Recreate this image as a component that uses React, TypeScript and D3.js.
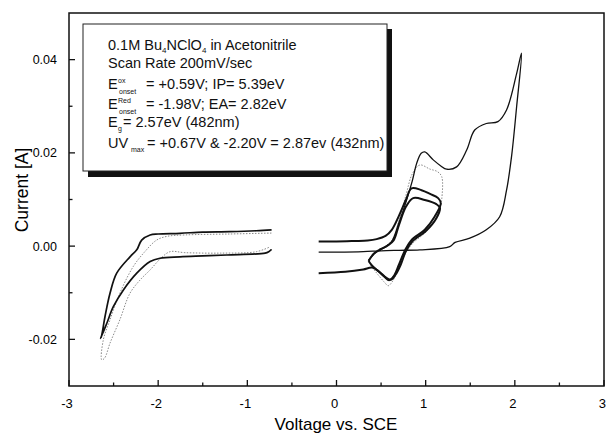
import React from 'react';
import * as d3 from 'd3';

// cyclic voltammetry traces, [voltage vs SCE, current in A]
const wideScan: [number, number][] = [
  [0.36, -0.0030], [0.45, -0.0012], [0.55, -0.0002], [0.62, 0.0010], [0.70, 0.0050],
  [0.78, 0.0095], [0.85, 0.0140], [0.90, 0.0178], [0.95, 0.0199], [0.99, 0.0202],
  [1.085, 0.0185], [1.17, 0.0172], [1.235, 0.0165], [1.347, 0.0170], [1.46, 0.0206],
  [1.55, 0.0249], [1.68, 0.0263], [1.81, 0.0267], [1.907, 0.0292], [2.02, 0.0370],
  [2.075, 0.0414],
  [2.02, 0.0299], [1.963, 0.0192], [1.907, 0.0120], [1.83, 0.0063], [1.68, 0.0035],
  [1.495, 0.0017], [1.33, 0.0008], [1.27, -0.0001], [0.935, -0.0008], [0.70, -0.0009],
  [0.50, -0.0010], [0.30, -0.0012], [0.0, -0.0013], [-0.2, -0.0013],
];

const firstCycle: [number, number][] = [
  [-0.2, 0.0010], [0.0, 0.0010], [0.2, 0.0011], [0.35, 0.0012], [0.45, 0.0015],
  [0.55, 0.0022], [0.62, 0.0035], [0.70, 0.0065], [0.78, 0.0100], [0.841, 0.0124],
  [0.954, 0.0120], [1.05, 0.0112], [1.14, 0.0103], [1.17, 0.0092],
  [1.10, 0.0063], [0.99, 0.0035], [0.84, 0.0013], [0.77, -0.0008], [0.70, -0.0040],
  [0.64, -0.0065], [0.59, -0.0073], [0.54, -0.0066], [0.47, -0.0054], [0.40, -0.0042],
  [0.36, -0.0032],
];

const secondCycle: [number, number][] = [
  [0.36, -0.0032], [0.42, -0.0016], [0.50, -0.0006], [0.58, 0.0002], [0.64, 0.0012],
  [0.70, 0.0045], [0.78, 0.0085], [0.86, 0.0103], [0.99, 0.0099], [1.12, 0.0090],
  [1.16, 0.0082],
  [1.12, 0.0060], [1.00, 0.0032], [0.85, 0.0010], [0.78, -0.0010], [0.72, -0.0040],
  [0.66, -0.0062], [0.61, -0.0072], [0.56, -0.0068], [0.48, -0.0055], [0.40, -0.0046],
  [0.30, -0.0050], [0.10, -0.0055], [-0.2, -0.0058],
];

const dottedCycle: [number, number][] = [
  [0.36, -0.0030], [0.45, -0.0010], [0.55, 0.0000], [0.63, 0.0015], [0.70, 0.0055],
  [0.78, 0.0110], [0.85, 0.0155], [0.935, 0.0174], [1.05, 0.0165], [1.13, 0.0160],
  [1.18, 0.0149],
  [1.18, 0.0100], [1.16, 0.0080], [1.10, 0.0055], [1.00, 0.0030], [0.85, 0.0005],
  [0.76, -0.0020], [0.69, -0.0050], [0.63, -0.0075], [0.58, -0.0085], [0.54, -0.0078],
  [0.46, -0.0060], [0.38, -0.0040], [0.36, -0.0032],
];

const reductionScan: [number, number][] = [
  [-0.728, 0.0035], [-0.9, 0.0033], [-1.2, 0.0031], [-1.5, 0.0030], [-1.756, 0.00275],
  [-2.0, 0.0026], [-2.09, 0.0024], [-2.185, 0.0013], [-2.24, -0.0008], [-2.316, -0.0023],
  [-2.465, -0.0058], [-2.54, -0.0101], [-2.596, -0.0151], [-2.633, -0.0191], [-2.645, -0.0198],
  [-2.577, -0.0166], [-2.503, -0.0130], [-2.39, -0.0094], [-2.24, -0.0058], [-2.09, -0.0033],
  [-1.98, -0.0026], [-1.756, -0.0023], [-1.5, -0.0021], [-1.23, -0.0019], [-0.80, -0.0015],
  [-0.76, -0.0012], [-0.728, -0.0007],
];

const reductionDotted: [number, number][] = [
  [-0.73, 0.0028], [-1.2, 0.0026], [-1.7, 0.0024], [-1.9, 0.0021], [-2.017, 0.0013],
  [-2.15, -0.0012], [-2.28, -0.0044], [-2.43, -0.0101], [-2.54, -0.0158], [-2.615, -0.0201],
  [-2.633, -0.0244],
  [-2.60, -0.0240], [-2.54, -0.0208], [-2.43, -0.0158], [-2.316, -0.0101], [-2.2, -0.0072],
  [-2.09, -0.0051], [-1.98, -0.0028], [-1.868, -0.0012], [-1.7, -0.0014], [-1.3, -0.0015],
  [-0.9, -0.0012], [-0.75, -0.0002],
];

const xTicks = [-3, -2, -1, 0, 1, 2, 3];
const yTicks = [-0.02, 0.0, 0.02, 0.04];

const FONT = '"Liberation Sans", Arial, sans-serif';

export default function App() {
  const x = d3.scaleLinear().domain([-3, 3]).range([69, 604]);
  const y = d3.scaleLinear().domain([-0.03, 0.05]).range([386, 13]);
  const line = d3.line<[number, number]>()
    .x(d => x(d[0]))
    .y(d => y(d[1]))
    .curve(d3.curveCatmullRom.alpha(0.5));

  const xMinor = x.ticks(12).filter(t => !xTicks.includes(t));
  const yMinor = y.ticks(8).filter(t => Math.abs(t * 100 - Math.round(t * 50) * 2) > 0.5 && t > -0.03 && t < 0.05);

  const [x0, x1] = x.range();
  const [yb, yt] = y.range();

  return (
    <svg width={606} height={434} style={{ position: 'absolute', left: 0, top: 0, background: '#fff' }}
      fontFamily={FONT}>
      {/* traces */}
      <path d={line(reductionDotted) || ''} fill="none" stroke="#8a8a8a" strokeWidth={1} strokeDasharray="1.5 1.5" />
      <path d={line(reductionScan) || ''} fill="none" stroke="#111" strokeWidth={1.7} />
      <path d={line(dottedCycle) || ''} fill="none" stroke="#8a8a8a" strokeWidth={1} strokeDasharray="1.5 1.5" />
      <path d={line(wideScan) || ''} fill="none" stroke="#111" strokeWidth={1.3} />
      <path d={line(firstCycle) || ''} fill="none" stroke="#111" strokeWidth={2} />
      <path d={line(secondCycle) || ''} fill="none" stroke="#111" strokeWidth={2} />

      {/* frame */}
      <rect x={x0} y={yt} width={x1 - x0} height={yb - yt} fill="none" stroke="#111" strokeWidth={1.5} />
      {xTicks.map((t, i) => (
        <g key={'xt' + t}>
          <line x1={x(t)} x2={x(t)} y1={yb} y2={yb - 6} stroke="#111" strokeWidth={1.3} />
          <text x={i === xTicks.length - 1 ? 606 : x(t) - 2} y={yb + 22} fontSize={13}
            textAnchor={i === xTicks.length - 1 ? 'end' : 'middle'}>{String(t)}</text>
        </g>
      ))}
      {xMinor.map(t => (
        <line key={'xm' + t} x1={x(t)} x2={x(t)} y1={yb} y2={yb - 3.5} stroke="#111" strokeWidth={1.3} />
      ))}
      {yTicks.map(t => (
        <g key={'yt' + t}>
          <line x1={x0} x2={x0 + 6} y1={y(t)} y2={y(t)} stroke="#111" strokeWidth={1.3} />
          <text x={x0 - 12} y={y(t) + 4.5} fontSize={12.5} textAnchor="end">{t.toFixed(2)}</text>
        </g>
      ))}
      {yMinor.map(t => (
        <line key={'ym' + t} x1={x0} x2={x0 + 3.5} y1={y(t)} y2={y(t)} stroke="#111" strokeWidth={1.3} />
      ))}

      <text x={336} y={429.5} fontSize={17} textAnchor="middle">Voltage vs. SCE</text>
      <text transform="translate(28,190) rotate(-90)" fontSize={17.5} textAnchor="middle">Current [A]</text>

      {/* annotation box with shadow */}
      <rect x={88} y={29} width={304} height={148} fill="#111" />
      <rect x={83} y={24} width={304} height={147} fill="#fff" stroke="#222" strokeWidth={1} />
      <g fontSize={14.5} fill="#111">
        <text x={108} y={50}>
          0.1M Bu<tspan fontSize={8} dy={3}>4</tspan><tspan dy={-3}>NClO</tspan>
          <tspan fontSize={8} dy={3}>4</tspan><tspan dy={-3}> in Acetonitrile</tspan>
        </text>
        <text x={108} y={68}>Scan Rate 200mV/sec</text>

        <text x={108} y={89}>E</text>
        <text x={118} y={83} fontSize={7}>ox</text>
        <text x={119} y={94} fontSize={7}>onset</text>
        <text x={146} y={89}>= +0.59V; IP= 5.39eV</text>

        <text x={108} y={109}>E</text>
        <text x={118} y={103} fontSize={7}>Red</text>
        <text x={119} y={114} fontSize={7}>onset</text>
        <text x={146} y={109}>= -1.98V; EA= 2.82eV</text>

        <text x={108} y={127}>E</text>
        <text x={118} y={131} fontSize={7}>g</text>
        <text x={123} y={127}>= 2.57eV (482nm)</text>

        <text x={108} y={148}>UV</text>
        <text x={131} y={152} fontSize={7}>max</text>
        <text x={147} y={148}>= +0.67V &amp; -2.20V = 2.87ev (432nm)</text>
      </g>
    </svg>
  );
}
